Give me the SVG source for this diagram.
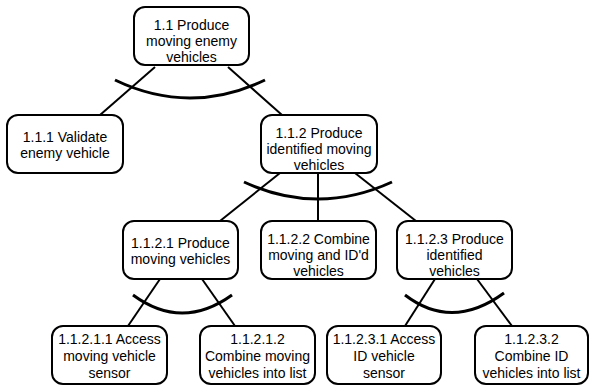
<svg xmlns="http://www.w3.org/2000/svg" width="589" height="385" viewBox="0 0 589 385">
<style>
.box{fill:#fff;stroke:#000;stroke-width:2}
.lbl{font-family:"Liberation Sans",Arial,sans-serif;font-size:14px;fill:#000;text-anchor:middle}
.ln{stroke:#000;stroke-width:2;fill:none}
.arc{stroke:#000;stroke-width:3;fill:none}
</style>
<rect width="589" height="385" fill="#fff"/>
<g id="connectors">
<line class="ln" x1="155" y1="67" x2="100" y2="115"/>
<line class="ln" x1="228" y1="67" x2="282" y2="115"/>
<line class="ln" x1="280" y1="173" x2="220" y2="221"/>
<line class="ln" x1="318" y1="173" x2="318" y2="221"/>
<line class="ln" x1="355" y1="173" x2="416" y2="221"/>
<line class="ln" x1="160" y1="279" x2="128" y2="326"/>
<line class="ln" x1="202" y1="279" x2="235" y2="326"/>
<line class="ln" x1="435" y1="279" x2="405" y2="326"/>
<line class="ln" x1="477" y1="279" x2="512" y2="326"/>
<path class="arc" d="M115,80 Q190,116 265,80"/>
<path class="arc" d="M244,182 Q318,216 392,182"/>
<path class="arc" d="M133,295 Q182,331 232,295"/>
<path class="arc" d="M405,295 Q452,331 504,293"/>
</g>
<g id="n1_1">
<rect class="box" x="134" y="7" width="115" height="58" rx="11"/>
<text class="lbl" x="191.5" y="30"><tspan x="191.5">1.1 Produce</tspan><tspan x="191.5" dy="16">moving enemy</tspan><tspan x="191.5" dy="16">vehicles</tspan></text>
</g>
<g id="n1_1_1">
<rect class="box" x="7" y="115" width="116" height="58" rx="11"/>
<text class="lbl" x="65" y="142"><tspan x="65">1.1.1 Validate</tspan><tspan x="65" dy="16">enemy vehicle</tspan></text>
</g>
<g id="n1_1_2">
<rect class="box" x="261" y="115" width="116" height="58" rx="11"/>
<text class="lbl" x="319" y="138"><tspan x="319">1.1.2 Produce</tspan><tspan x="319" dy="16">identified moving</tspan><tspan x="319" dy="16">vehicles</tspan></text>
</g>
<g id="n1_1_2_1">
<rect class="box" x="123" y="221" width="115" height="58" rx="11"/>
<text class="lbl" x="180.5" y="248"><tspan x="180.5">1.1.2.1 Produce</tspan><tspan x="180.5" dy="16">moving vehicles</tspan></text>
</g>
<g id="n1_1_2_2">
<rect class="box" x="261" y="221" width="115" height="58" rx="11"/>
<text class="lbl" x="318.5" y="244"><tspan x="318.5">1.1.2.2 Combine</tspan><tspan x="318.5" dy="16">moving and ID'd</tspan><tspan x="318.5" dy="16">vehicles</tspan></text>
</g>
<g id="n1_1_2_3">
<rect class="box" x="397" y="221" width="115" height="58" rx="11"/>
<text class="lbl" x="454.5" y="244"><tspan x="454.5">1.1.2.3 Produce</tspan><tspan x="454.5" dy="16">identified</tspan><tspan x="454.5" dy="16">vehicles</tspan></text>
</g>
<g id="n1_1_2_1_1">
<rect class="box" x="52" y="326" width="115" height="58" rx="11"/>
<text class="lbl" x="109.5" y="344"><tspan x="109.5">1.1.2.1.1 Access</tspan><tspan x="109.5" dy="17">moving vehicle</tspan><tspan x="109.5" dy="17">sensor</tspan></text>
</g>
<g id="n1_1_2_1_2">
<rect class="box" x="200" y="326" width="115" height="58" rx="11"/>
<text class="lbl" x="257.5" y="344"><tspan x="257.5">1.1.2.1.2</tspan><tspan x="257.5" dy="17">Combine moving</tspan><tspan x="257.5" dy="17">vehicles into list</tspan></text>
</g>
<g id="n1_1_2_3_1">
<rect class="box" x="327" y="326" width="114" height="58" rx="11"/>
<text class="lbl" x="384" y="344"><tspan x="384">1.1.2.3.1 Access</tspan><tspan x="384" dy="17">ID vehicle</tspan><tspan x="384" dy="17">sensor</tspan></text>
</g>
<g id="n1_1_2_3_2">
<rect class="box" x="475" y="326" width="113" height="58" rx="11"/>
<text class="lbl" x="531.5" y="344"><tspan x="531.5">1.1.2.3.2</tspan><tspan x="531.5" dy="17">Combine ID</tspan><tspan x="531.5" dy="17">vehicles into list</tspan></text>
</g>
</svg>
